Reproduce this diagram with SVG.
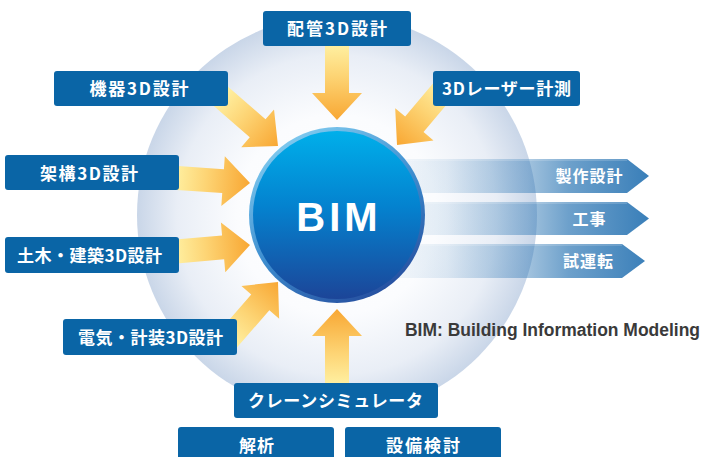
<svg xmlns="http://www.w3.org/2000/svg" width="701" height="457" viewBox="0 0 701 457">
<defs>
  <radialGradient id="bgCircle" cx="0.5" cy="0.5" r="0.5">
    <stop offset="0" stop-color="#ffffff"/>
    <stop offset="0.5" stop-color="#fbfcfe"/>
    <stop offset="0.8" stop-color="#e9eef6"/>
    <stop offset="1" stop-color="#c9d6e8"/>
  </radialGradient>
  <linearGradient id="arrowGrad" x1="0" y1="0" x2="1" y2="0">
    <stop offset="0" stop-color="#fff4a8"/>
    <stop offset="0.45" stop-color="#fdd474"/>
    <stop offset="1" stop-color="#f8a733"/>
  </linearGradient>
  <linearGradient id="bandGrad" gradientUnits="userSpaceOnUse" x1="380" y1="0" x2="649" y2="0">
    <stop offset="0" stop-color="#2f78b5" stop-opacity="0.03"/>
    <stop offset="0.25" stop-color="#2f78b5" stop-opacity="0.13"/>
    <stop offset="0.55" stop-color="#2f78b5" stop-opacity="0.45"/>
    <stop offset="0.7" stop-color="#2f78b5" stop-opacity="0.7"/>
    <stop offset="1" stop-color="#2f78b5" stop-opacity="0.95"/>
  </linearGradient>
  <linearGradient id="ringGrad" x1="0.2" y1="0" x2="0.8" y2="1">
    <stop offset="0" stop-color="#86d0f2"/>
    <stop offset="0.5" stop-color="#3f8fd0"/>
    <stop offset="1" stop-color="#23489a"/>
  </linearGradient>
  <linearGradient id="bimGrad" x1="0" y1="0" x2="0" y2="1">
    <stop offset="0" stop-color="#00afea"/>
    <stop offset="0.45" stop-color="#0482cf"/>
    <stop offset="1" stop-color="#1c4598"/>
  </linearGradient>
  <path id="arr80" d="M-80,-12 L-27,-12 L-27,-25 L0,0 L-27,25 L-27,12 L-80,12 Z"/>
</defs>
<style>
  .box { fill: #0a65a6; }
  .lbl { fill: #ffffff; font-family: "Noto Sans CJK JP", "Noto Sans", sans-serif; font-weight: 700; font-size: 17px; text-anchor: middle; }
  .blbl { fill: #ffffff; font-family: "Noto Sans CJK JP", "Noto Sans", sans-serif; font-weight: 700; font-size: 16px; text-anchor: middle; }
  .arrow { fill: url(#arrowGrad); }
  .band { fill: url(#bandGrad); }
</style>

<rect width="701" height="457" fill="#ffffff"/>
<circle cx="337" cy="215" r="200" fill="url(#bgCircle)"/>

<g id="connectors">
  <g id="out-bands">
    <path class="band" d="M380,159 L627,159 L649,176 L627,193 L380,193 Z"/>
    <path class="band" d="M380,202 L627,202 L649,218.5 L627,235 L380,235 Z"/>
    <path class="band" d="M380,244 L622,244 L645,261 L622,278 L380,278 Z"/>
    <g fill="none" stroke="#ffffff" stroke-opacity="0.35" stroke-width="1.2">
      <path d="M380,160 L627,160"/>
      <path d="M380,203 L627,203"/>
      <path d="M380,245 L622,245"/>
    </g>
  </g>
  <use class="arrow" href="#arr80" transform="translate(337,120) rotate(90)"/>
  <use class="arrow" href="#arr80" transform="translate(278,146) rotate(41)"/>
  <use class="arrow" href="#arr80" transform="translate(250,183) rotate(4)"/>
  <use class="arrow" href="#arr80" transform="translate(250,245) rotate(-5)"/>
  <use class="arrow" href="#arr80" transform="translate(278,282) rotate(-49)"/>
  <use class="arrow" href="#arr80" transform="translate(337,309) rotate(-90)"/>
  <use class="arrow" href="#arr80" transform="translate(397,145) rotate(130)"/>
</g>

<g id="bim">
  <circle cx="337" cy="215" r="88" fill="url(#ringGrad)"/>
  <circle cx="337" cy="215" r="84" fill="url(#bimGrad)"/>
  <text x="339" y="231" fill="#ffffff" font-family="Liberation Sans, Arial, sans-serif" font-weight="700" font-size="40" text-anchor="middle" letter-spacing="4">BIM</text>
</g>

<g id="out-labels">
  <text class="blbl" x="589" y="182" textLength="67" lengthAdjust="spacing">製作設計</text>
  <text class="blbl" x="589" y="224.5" textLength="33" lengthAdjust="spacing">工事</text>
  <text class="blbl" x="588" y="267" textLength="50" lengthAdjust="spacing">試運転</text>
</g>

<g id="n-haikan">
  <rect class="box" x="263" y="11" width="148" height="35" rx="3"/>
  <text class="lbl" x="337" y="35" textLength="100" lengthAdjust="spacing">配管3D設計</text>
</g>
<g id="n-kiki">
  <rect class="box" x="54" y="71" width="174" height="35" rx="3"/>
  <text class="lbl" x="139" y="95" textLength="99" lengthAdjust="spacing">機器3D設計</text>
</g>
<g id="n-laser">
  <rect class="box" x="433" y="71" width="147" height="35" rx="3"/>
  <text class="lbl" x="506.5" y="95" textLength="129" lengthAdjust="spacing">3Dレーザー計測</text>
</g>
<g id="n-kakou">
  <rect class="box" x="5" y="155" width="174" height="35" rx="3"/>
  <text class="lbl" x="89" y="179.5" textLength="98" lengthAdjust="spacing">架構3D設計</text>
</g>
<g id="n-doboku">
  <rect class="box" x="5" y="237" width="174" height="36" rx="3"/>
  <text class="lbl" x="89.5" y="261.5" textLength="145" lengthAdjust="spacing">土木・建築3D設計</text>
</g>
<g id="n-denki">
  <rect class="box" x="63" y="319" width="174" height="36" rx="3"/>
  <text class="lbl" x="150.5" y="343.5" textLength="145" lengthAdjust="spacing">電気・計装3D設計</text>
</g>
<g id="n-crane">
  <rect class="box" x="234" y="383" width="204" height="35" rx="3"/>
  <text class="lbl" x="335.5" y="407" textLength="175" lengthAdjust="spacing">クレーンシミュレータ</text>
</g>
<g id="n-kaiseki">
  <rect class="box" x="178" y="427" width="156" height="40" rx="3"/>
  <text class="lbl" x="256.5" y="451.5" textLength="35" lengthAdjust="spacing">解析</text>
</g>
<g id="n-setsubi">
  <rect class="box" x="345" y="427" width="156" height="40" rx="3"/>
  <text class="lbl" x="423" y="451.5" textLength="74" lengthAdjust="spacing">設備検討</text>
</g>

<text x="405" y="336" fill="#3a3a3a" font-family="Liberation Sans, Arial, sans-serif" font-weight="700" font-size="17.5" textLength="295" lengthAdjust="spacingAndGlyphs">BIM: Building Information Modeling</text>
</svg>
